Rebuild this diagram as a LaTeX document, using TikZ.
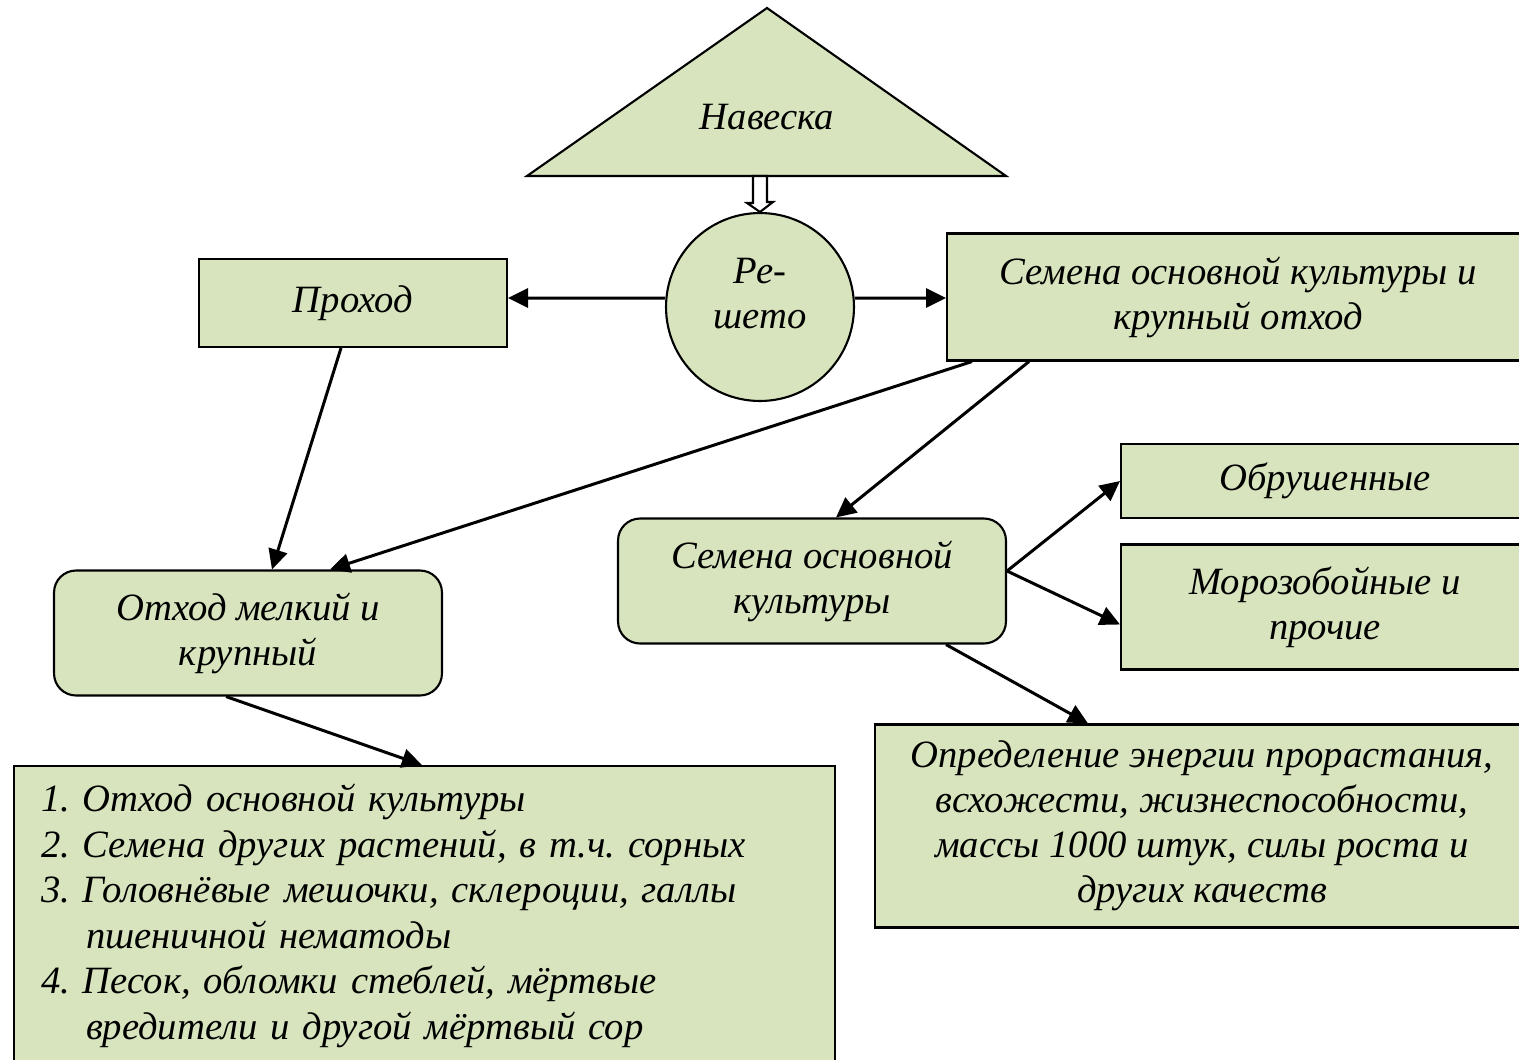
\documentclass[tikz,border=0pt]{standalone}
\usepackage{fontspec}
\setmainfont{Liberation Serif}
\usetikzlibrary{arrows.meta,positioning,calc}
\definecolor{leaf}{RGB}{215,228,189}
\frenchspacing
\tikzset{
  box/.style={rectangle, draw=black, line width=1.2pt, fill=leaf, align=center,
              font=\fontsize{22}{25.6}\selectfont\itshape},
  rbox/.style={box, rounded corners=0.44cm},
  sieve/.style={circle, draw=black, line width=1.2pt, fill=leaf, minimum size=3.76cm},
  txt/.style={align=center, font=\fontsize{22}{25.6}\selectfont\itshape},
  arr/.style={-{Triangle[length=0.4cm, width=0.38cm]}, line width=1.7pt},
}

\begin{document}
\begin{tikzpicture}[x=0.02cm,y=-0.02cm]
\useasboundingbox (0,0) rectangle (1519,1059);
\clip (0,0) rectangle (1519,1059);

% ================= sample and sieve =================
\draw[line width=1.2pt, fill=leaf] (527,176) -- (767,8) -- (1006,176) -- cycle;
\node[txt] (navesk) at (767,117) {Навеска};

\node[sieve] (sieve) at (760,307) {};
\node[txt] (sievetxt) at (760,294) {Ре-\\шето};

% hollow arrow, sample onto the sieve
\coordinate (tribase) at (sieve.north |- 0,176);
\draw[line width=1.2pt, fill=white] (tribase) ++(-7,0) -- ++(14,0) -- ++(0,26) -- ++(6,0)
  -- (sieve.north) -- ++(-13,-9) -- ++(6,0) -- cycle;

% ================= first split =================
\node[box, minimum width=6.16cm, minimum height=1.76cm] (prohod) at (353,303) {Проход};
\node[box, minimum width=11.64cm, minimum height=2.54cm] (semotx) at (1238,297)
  {Семена основной культуры и\\крупный отход};

\draw[arr] ([yshift=0.18cm]sieve.west) -- ([yshift=0.1cm]prohod.east);
\draw[arr] ([yshift=0.18cm]sieve.east) -- ([yshift=-0.02cm]semotx.west);

% ================= second level =================
\node[rbox, minimum width=7.76cm, minimum height=2.5cm] (othod) at (248,633)
  {Отход мелкий и\\крупный};
\node[rbox, minimum width=7.76cm, minimum height=2.5cm] (semosn) at (812,581)
  {Семена основной\\культуры};

\draw[arr] ([xshift=-0.24cm]prohod.south) -- ([xshift=0.48cm]othod.north);
\draw[arr] ([xshift=0.52cm]semotx.south west) -- ([xshift=1.64cm]othod.north);
\draw[arr] ([xshift=1.66cm]semotx.south west) -- ([xshift=0.48cm]semosn.north);

% ================= seed fractions =================
\node[box, minimum width=8.16cm, minimum height=1.48cm] (obrush) at (1325,481) {Обрушенные};
\node[box, minimum width=8.16cm, minimum height=2.5cm] (moroz) at (1325,607)
  {Морозобойные и\\прочие};
\node[box, minimum width=13.08cm, minimum height=4.06cm] (opred) at (1202,826)
  {Определение энергии прорастания,\\всхожести, жизнеспособности,\\массы 1000 штук, силы роста и\\других качеств};

\draw[arr] ([yshift=0.2cm]semosn.east) -- (obrush.west);
\draw[arr] ([yshift=0.2cm]semosn.east) -- ([yshift=-0.35cm]moroz.west);
\draw[arr] ([xshift=2.68cm]semosn.south) -- ([xshift=-2.28cm]opred.north);

% ================= waste composition =================
\node[box, anchor=north west, align=left, text width=15.34cm, minimum height=6.2cm,
      inner xsep=0.54cm, inner ysep=0.36cm, text depth=5cm,
      font=\fontsize{22}{25.9}\selectfont\itshape] (sostav) at (13,765)
  {1. Отход основной культуры\\
   2. Семена других растений, в т.ч. сорных\\
   3. Головнёвые мешочки, склероции, галлы\\
   \hspace*{0.9cm}пшеничной нематоды\\
   4. Песок, обломки стеблей, мёртвые\\
   \hspace*{0.9cm}вредители и другой мёртвый сор};

\draw[arr] ([xshift=-0.44cm]othod.south) -- ([xshift=8.18cm]sostav.north west);

\end{tikzpicture}
\end{document}
